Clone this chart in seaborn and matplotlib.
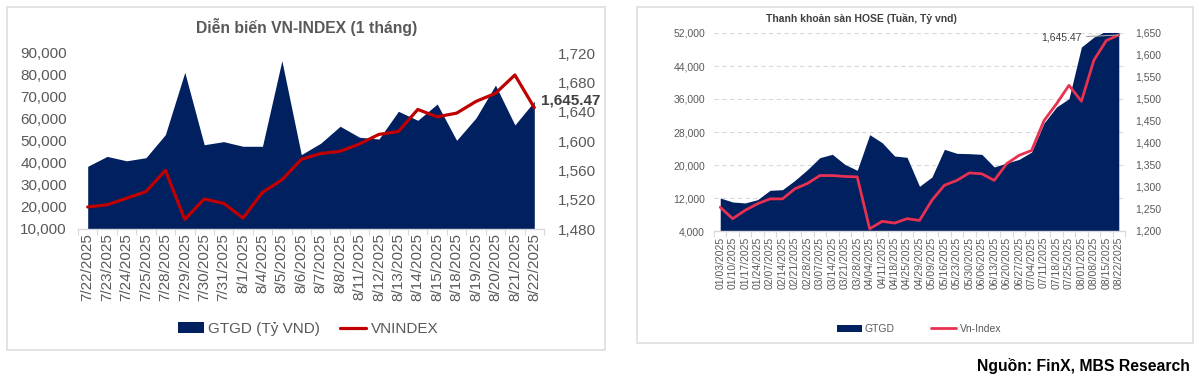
import numpy as np
import matplotlib
matplotlib.use("Agg")
import matplotlib.pyplot as plt
import seaborn as sns
from matplotlib.patches import Rectangle, Patch
from matplotlib.lines import Line2D
from matplotlib.ticker import FuncFormatter

# Left panel: daily VN-INDEX, last month
daily_dates = ["7/22/2025", "7/23/2025", "7/24/2025", "7/25/2025", "7/28/2025",
               "7/29/2025", "7/30/2025", "7/31/2025", "8/1/2025", "8/4/2025",
               "8/5/2025", "8/6/2025", "8/7/2025", "8/8/2025", "8/11/2025",
               "8/12/2025", "8/13/2025", "8/14/2025", "8/15/2025", "8/18/2025",
               "8/19/2025", "8/20/2025", "8/21/2025", "8/22/2025"]
daily_gtgd = [38500, 43000, 41000, 42400, 52900, 81200, 48300, 49700, 47600, 47600,
              86500, 43800, 49000, 56700, 51700, 50900, 63500, 59400, 66800, 50300,
              60500, 75400, 57300, 68000]
daily_vnindex = [1510, 1513, 1522, 1531, 1560, 1493, 1521, 1515, 1495, 1530,
                 1547, 1575, 1583, 1586, 1596, 1609, 1613, 1643, 1633, 1638,
                 1654, 1665, 1690, 1645.47]

# Right panel: weekly HOSE liquidity
weekly_dates = ["01/03/2025", "01/10/2025", "01/17/2025", "01/24/2025", "02/07/2025",
                "02/14/2025", "02/21/2025", "02/28/2025", "03/07/2025", "03/14/2025",
                "03/21/2025", "03/28/2025", "04/04/2025", "04/11/2025", "04/18/2025",
                "04/25/2025", "04/29/2025", "05/09/2025", "05/16/2025", "05/23/2025",
                "05/30/2025", "06/06/2025", "06/13/2025", "06/20/2025", "06/27/2025",
                "07/04/2025", "07/11/2025", "07/18/2025", "07/25/2025", "08/01/2025",
                "08/08/2025", "08/15/2025", "08/22/2025"]
weekly_gtgd = [12000, 11030, 10800, 11600, 13860, 14020, 16280, 18870, 21780, 22590,
               20160, 18710, 27350, 25410, 22180, 21860, 14830, 17090, 23800, 22830,
               22750, 22590, 19520, 20480, 21370, 23150, 30180, 34060, 36080, 48600,
               51000, 52500, 53000]
weekly_vnindex = [1254, 1228, 1247, 1262, 1273, 1273, 1296, 1308, 1326, 1326,
                  1324, 1323, 1205, 1222, 1218, 1228, 1224, 1270, 1304, 1315,
                  1332, 1330, 1315, 1353, 1372, 1383, 1451, 1489, 1531, 1495,
                  1588, 1633, 1645.47]

NAVY = "#002060"
GREY_TXT = "#595959"
AXIS_GREY = "#d9d9d9"

sns.set_theme(style="white")
plt.rcParams["font.family"] = ["Liberation Sans", "DejaVu Sans"]

fig = plt.figure(figsize=(12, 3.78), dpi=100)
W, H = 1200, 378

# panel frames
for x0, y0, x1, y1 in [(7, 7, 605, 350), (637, 7, 1193, 343)]:
    fig.patches.append(Rectangle((x0 / W, 1 - y1 / H), (x1 - x0) / W, (y1 - y0) / H,
                                 transform=fig.transFigure, fill=False,
                                 ec="#e0e0e0", lw=1.3))

fmt = FuncFormatter(lambda v, p: f"{v:,.0f}")

# ---------------- left chart ----------------
n1 = len(daily_dates)
x1 = np.arange(n1)
ax1 = fig.add_axes([78 / W, 1 - 229 / H, (544 - 78) / W, (229 - 53) / H])
ax1.fill_between(x1, daily_gtgd, 0, color=NAVY, lw=0)
ax1.set_xlim(-0.5, n1 - 0.5)
ax1.set_ylim(10000, 90000)
ax1.set_yticks(np.arange(10000, 90001, 10000))
ax1.yaxis.set_major_formatter(fmt)
ax1.set_xticks(x1, labels=daily_dates, rotation=90)
ax1.set_xticks(np.arange(-0.5, n1, 1), minor=True)
ax1.tick_params(axis="x", which="major", length=0, pad=3, labelsize=11, labelcolor=GREY_TXT)
ax1.tick_params(axis="x", which="minor", length=4, width=0.8, color=AXIS_GREY, bottom=True)
ax1.tick_params(axis="y", length=0, pad=8, labelsize=11, labelcolor=GREY_TXT)
for s in ["left", "right", "top"]:
    ax1.spines[s].set_visible(False)
ax1.spines["bottom"].set_color(AXIS_GREY)
ax1.spines["bottom"].set_linewidth(1)

ax1b = ax1.twinx()
sns.lineplot(x=x1, y=daily_vnindex, ax=ax1b, color="#C00000", lw=2.3, legend=False)
ax1b.set_ylim(1480, 1720)
ax1b.set_yticks(np.arange(1480, 1721, 40))
ax1b.yaxis.set_major_formatter(fmt)
ax1b.tick_params(axis="y", length=0, pad=10, labelsize=11, labelcolor=GREY_TXT)
for s in ax1b.spines.values():
    s.set_visible(False)
ax1b.annotate(f"{daily_vnindex[-1]:,.2f}", xy=(x1[-1], daily_vnindex[-1]),
              xytext=(5, 5), textcoords="offset points", ha="left", va="center",
              fontsize=11, fontweight="bold", color="#404040")

fig.text(307 / W, 1 - 27 / H, "Diễn biến VN-INDEX (1 tháng)", ha="center", va="center",
         fontsize=11.3, fontweight="bold", color=GREY_TXT)
fig.legend(handles=[Patch(fc=NAVY, ec="none"), Line2D([], [], color="#C00000", lw=2.3)],
           labels=["GTGD (Tỷ VND)", "VNINDEX"], loc="center", bbox_to_anchor=(308 / W, 1 - 329 / H),
           ncol=2, frameon=False, fontsize=11, handlelength=1.7, handletextpad=0.3,
           columnspacing=1.3, labelcolor=GREY_TXT)

# ---------------- right chart ----------------
n2 = len(weekly_dates)
x2 = np.arange(n2)
ax2 = fig.add_axes([714 / W, 1 - 231 / H, (1125 - 714) / W, (231 - 33) / H])
ax2.set_axisbelow(True)
ax2.yaxis.grid(True, ls=(0, (4, 3)), color=AXIS_GREY, lw=0.8)
ax2.fill_between(x2, weekly_gtgd, 0, color=NAVY, lw=0)
ax2.set_xlim(-0.5, n2 - 0.5)
ax2.set_ylim(4000, 52000)
ax2.set_yticks(np.arange(4000, 52001, 8000))
ax2.yaxis.set_major_formatter(fmt)
ax2.set_xticks(x2, labels=weekly_dates, rotation=90)
ax2.set_xticks(np.arange(-0.5, n2, 1), minor=True)
ax2.tick_params(axis="x", which="major", length=0, pad=4, labelsize=7.5, labelcolor=GREY_TXT)
ax2.tick_params(axis="x", which="minor", length=4, width=0.8, color=AXIS_GREY, bottom=True)
ax2.tick_params(axis="y", length=0, pad=6.5, labelsize=7.5, labelcolor=GREY_TXT)
for s in ["left", "right", "top"]:
    ax2.spines[s].set_visible(False)
ax2.spines["bottom"].set_color(AXIS_GREY)
ax2.spines["bottom"].set_linewidth(1)

ax2b = ax2.twinx()
sns.lineplot(x=x2, y=weekly_vnindex, ax=ax2b, color="#E83150", lw=2.0, legend=False)
ax2b.set_ylim(1200, 1650)
ax2b.set_yticks(np.arange(1200, 1651, 50))
ax2b.yaxis.set_major_formatter(fmt)
ax2b.tick_params(axis="y", length=0, pad=7, labelsize=7.5, labelcolor=GREY_TXT)
for s in ax2b.spines.values():
    s.set_visible(False)
ax2b.annotate(f"{weekly_vnindex[-1]:,.2f}", xy=(x2[-1], weekly_vnindex[-1]),
              xytext=(-27, -2), textcoords="offset points", ha="right", va="center",
              fontsize=7.5, color="#404040",
              arrowprops=dict(arrowstyle="-", color="#a6a6a6", lw=0.8, shrinkA=1.5, shrinkB=0))

fig.text(766 / W, 1 - 19 / H, "Thanh khoản sàn HOSE (Tuần, Tỷ vnd)", ha="left", va="center",
         fontsize=7.5, fontweight="bold", color="#404040")
fig.legend(handles=[Patch(fc=NAVY, ec="none"), Line2D([], [], color="#E83150", lw=2.0)],
           labels=["GTGD", "Vn-Index"], loc="center", bbox_to_anchor=(919 / W, 1 - 329 / H),
           ncol=2, frameon=False, fontsize=7.5, handlelength=2.4, handletextpad=0.3,
           columnspacing=3.5, labelcolor=GREY_TXT)

fig.text(1190 / W, 1 - 366 / H, "Nguồn: FinX, MBS Research", ha="right", va="center",
         fontsize=11.3, fontweight="bold", color="black")

fig.savefig("out.png", dpi=100)
